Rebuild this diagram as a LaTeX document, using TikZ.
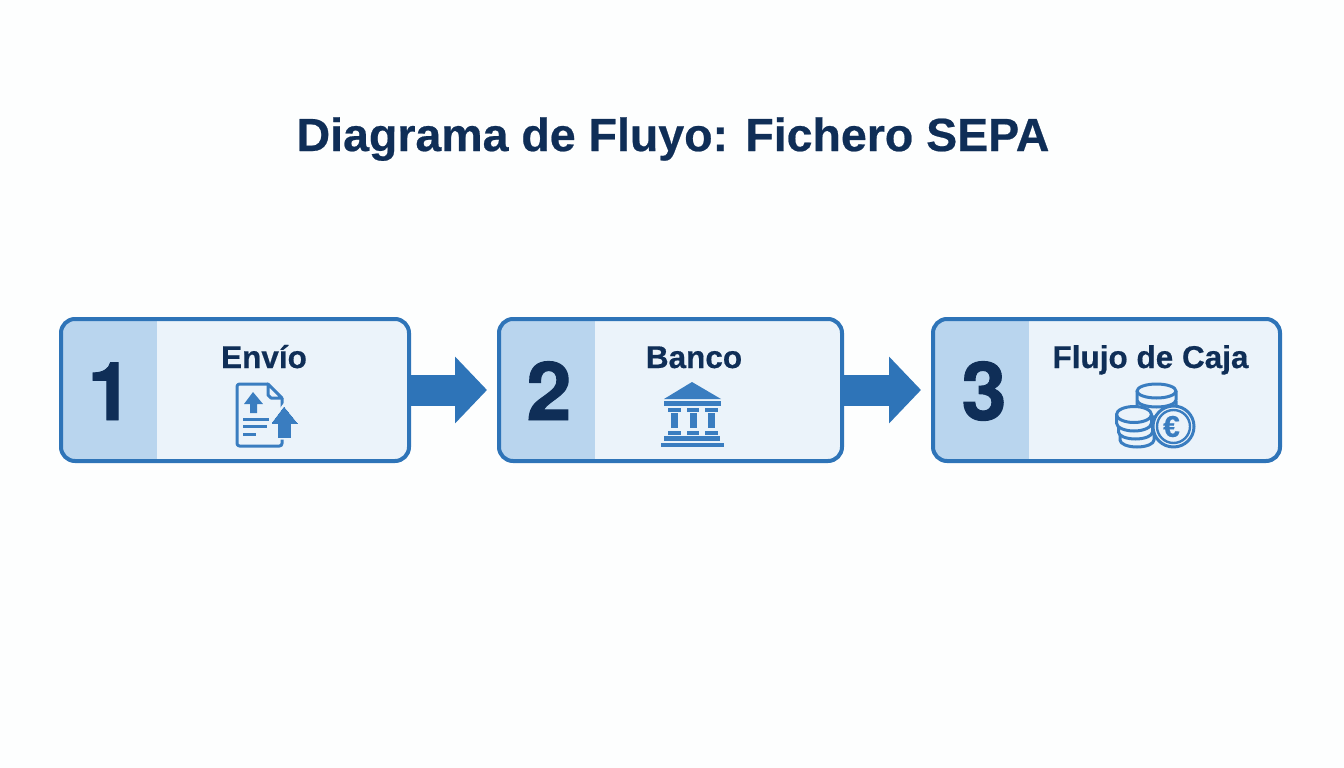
\documentclass[tikz,border=0pt]{standalone}
\usepackage{fontspec}
\setmainfont{Liberation Sans}
\newfontface\numface{TeX Gyre Heros Bold}[FakeBold=1.2]
\newfontface\labface{Liberation Sans Bold}[FakeBold=0.5]
\usetikzlibrary{arrows.meta}
\definecolor{pagewhite}{HTML}{FDFEFE}
\definecolor{boxfill}{HTML}{EBF3FA}
\definecolor{panelblue}{HTML}{B9D5EE}
\definecolor{edgeblue}{HTML}{2E74B8}
\definecolor{iconblue}{HTML}{3A7DC0}
\definecolor{navytext}{HTML}{0F2E57}
\tikzset{
  stepbox/.style={draw=edgeblue, line width=4pt, rounded corners=14pt, fill=boxfill,
    minimum height=142pt, inner sep=0pt,
    path picture={\fill[panelblue, sharp corners] (path picture bounding box.south west) rectangle
      ([xshift=96pt]path picture bounding box.north west);}},
  stepnum/.style={anchor=base, inner sep=0pt, text=navytext, font=\fontsize{81}{81}\numface},
  steptext/.style={anchor=base, inner sep=0pt, text=navytext, font=\fontsize{31.5}{32}\labface},
  steparrow/.style={draw=edgeblue, line width=31pt, shorten >=10pt, -{Triangle[length=32pt,width=65pt]}},
  iconline/.style={draw=iconblue, line width=3pt, line join=round},
  iconfill/.style={fill=iconblue},
}
\begin{document}
\begin{tikzpicture}[x=1pt,y=-1pt]
\useasboundingbox[fill=pagewhite] (0,0) rectangle (1344,768);
\node[anchor=base, inner sep=0pt, text=navytext, font=\fontsize{46.5}{47}\labface] (title) at (673,151) {Diagrama de Fluyo: Fichero SEPA};
% boxes
\node[stepbox, minimum width=348pt] (box1) at (235,390) {};
\node[stepbox, minimum width=343pt] (box2) at (670.5,390) {};
\node[stepbox, minimum width=347pt] (box3) at (1106.5,390) {};
\draw[steparrow] (box1) -- (box2);
\draw[steparrow] (box2) -- (box3);
% numbers and labels
\node[stepnum] (num1) at (110,420) {1};
\node[stepnum] (num2) at (549,420) {2};
\node[stepnum] (num3) at (984,420) {3};
\node[steptext] (lab1) at (264,368) {Envío};
\node[steptext] (lab2) at (694,368) {Banco};
\node[steptext] (lab3) at (1150.5,368) {Flujo de Caja};
% envio icon
\draw[iconline, rounded corners=2.5pt] (268,384) -- (237,384) -- (237,446) -- (282,446) -- (282,398);
\draw[iconline] (268,384) -- (282,398) -- (271,398) -- (268,395) -- cycle;
\fill[iconfill] (253,392) -- (263,404) -- (257,404) -- (257,413) -- (250,413) -- (250,404) -- (244,404) -- cycle;
\draw[iconline] (243,419) -- (269,419) (243,426) -- (267,426) (243,434) -- (256,434);
\filldraw[iconblue, fill=iconblue, preaction={draw=boxfill, line width=5pt}, line width=0pt] (284,407) -- (297,423) -- (290,423) -- (290,437) -- (278,437) -- (278,423) -- (272,423) -- cycle;
% banco icon
\fill[iconfill] (692,382) -- (721,399) -- (664,399) -- cycle;
\fill[iconfill] (664,401) rectangle (721,406);
\foreach \px in {668,686.5,705} {
  \fill[iconfill] (\px,408) rectangle ++(12.5,4);
  \fill[iconfill] (\px+3,413) rectangle ++(7,15);
  \fill[iconfill] (\px,431) rectangle ++(12.5,3.5);
}
\fill[iconfill] (664,436) rectangle (720,441);
\fill[iconfill] (661,442.5) rectangle (724,447);
% caja icon
\foreach \py in {410,400} {
  \draw[iconline, fill=boxfill] (1137,\py-9) -- (1137,\py) arc[start angle=180, end angle=0, x radius=19.5, y radius=7] -- (1176,\py-9);
}
\draw[iconline, fill=boxfill] (1156.5,391) ellipse [x radius=19.5, y radius=7];
\draw[iconline, fill=boxfill] (1120,431) -- (1120,440) arc[start angle=180, end angle=0, x radius=17, y radius=7] -- (1154,431);
\draw[iconline, fill=boxfill] (1118.5,423) -- (1118.5,432) arc[start angle=180, end angle=0, x radius=17, y radius=7] -- (1152.5,423);
\draw[iconline, fill=boxfill] (1116.5,414.5) -- (1116.5,423) arc[start angle=180, end angle=0, x radius=17.5, y radius=8] -- (1151.5,414.5);
\draw[iconline, fill=boxfill] (1134,414.5) ellipse [x radius=17.5, y radius=8];
\draw[iconline, fill=boxfill] (1173.5,426.5) circle [radius=20.5];
\draw[iconline, line width=2.4pt] (1173.5,426.5) circle [radius=16.5];
\node[inner sep=0pt, text=iconblue, font=\fontsize{30}{30}\labface] (euro) at (1171.5,426.5) {€};
\end{tikzpicture}
\end{document}
